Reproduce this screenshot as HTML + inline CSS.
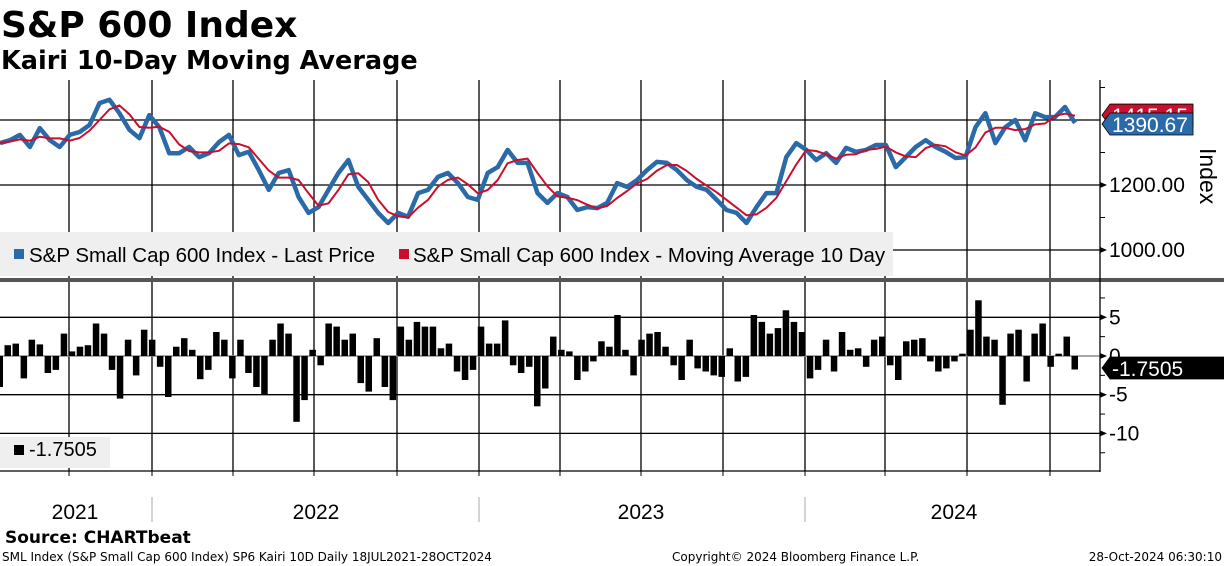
<!DOCTYPE html>
<html><head><meta charset="utf-8">
<style>
body{margin:0;width:1224px;height:566px;background:#fff;overflow:hidden;font-family:"DejaVu Sans","Liberation Sans",sans-serif;}
svg{position:absolute;left:0;top:0}
</style></head><body>
<svg id="c" width="1224" height="566">
  <text x="1" y="37" font-size="36" font-weight="bold" fill="#000">S&amp;P 600 Index</text>
  <text x="1" y="69" font-size="25.5" font-weight="bold" fill="#000">Kairi 10-Day Moving Average</text>
  <g id="grid"></g>
  <g id="upper"></g>
  <g id="lower"></g>
  <g id="axes"></g>
</svg>
<script>
const priceVals=[1329,1338,1354,1317,1375,1338,1317,1354,1363,1385,1452,1462,1421,1370,1344,1415,1378,1298,1298,1317,1286,1298,1332,1354,1292,1302,1246,1185,1237,1246,1163,1114,1132,1185,1237,1277,1194,1154,1114,1083,1114,1102,1175,1185,1225,1237,1206,1163,1154,1237,1255,1308,1268,1268,1175,1145,1175,1163,1123,1132,1129,1145,1206,1194,1215,1246,1271,1268,1246,1215,1194,1185,1154,1123,1114,1083,1132,1175,1175,1286,1329,1308,1277,1298,1268,1314,1302,1308,1323,1323,1255,1286,1317,1338,1317,1302,1283,1286,1378,1421,1329,1378,1400,1338,1421,1409,1409,1440,1391];
const kairiVals=[-4.0,1.4,1.6,-2.9,2.1,1.5,-2.2,-1.8,2.9,0.6,1.2,1.4,4.2,2.9,-1.8,-5.5,2.1,-2.5,3.4,2.1,-1.4,-5.3,1.2,2.3,0.8,-3.0,-1.8,3.1,2.1,-2.9,2.1,-2.2,-4.0,-5.0,2.1,4.2,2.9,-8.5,-5.7,0.8,-1.2,4.2,3.8,2.1,2.9,-3.5,-4.6,2.3,-4.0,-5.7,
3.8,2.1,4.4,3.8,3.8,1.0,1.6,-2.0,-3.1,-1.8,3.8,1.6,1.6,4.6,-1.2,-2.2,-1.4,-6.5,-4.2,2.5,0.8,0.6,-3.1,-2.0,-0.7,1.9,1.2,5.3,0.8,-2.5,2.1,2.9,3.1,1.2,-1.2,-3.1,2.1,-1.6,-2.0,-2.5,-2.7,1.0,-3.3,-2.7,5.3,4.4,2.9,3.6,5.9,4.4,
3.1,-2.9,-1.8,2.1,-2.0,3.1,0.8,1.0,-1.4,2.1,2.5,-1.2,-3.1,1.9,2.1,2.3,-0.7,-2.0,-1.6,-0.7,0.3,3.4,7.2,2.5,2.1,-6.3,2.9,3.4,-3.3,2.9,4.2,-1.4,0.3,2.5,-1.75];
const priceTicks=[1000,1200];
const priceTickLabels=["1000.00","1200.00"];
const kairiTicks=[5,0,-5,-10];
const kairiTickLabels=["5","0","-5","-10"];
const years=["2021","2022","2023","2024"];

const NS="http://www.w3.org/2000/svg";
function mk(p,t,a){const e=document.createElementNS(NS,t);for(const k in a)e.setAttribute(k,a[k]);p.appendChild(e);return e;}
const X0=0,XEND=1075,PLOTR=1100;
const yP=v=>250-(v-1000)*65/200;
const yK=v=>356-v*7.74;
const xP=i=>X0+i*(XEND-X0)/(priceVals.length-1);
const xK=i=>X0+i*(XEND-X0)/(kairiVals.length-1);
const grid=document.getElementById('grid'),up=document.getElementById('upper'),lo=document.getElementById('lower'),ax=document.getElementById('axes');
const LF='Liberation Sans, sans-serif';

[69,152,233,314,397,479,560,641,723,805,885,967,1050].forEach(x=>{
 const l=mk(grid,'line',{x1:x,x2:x,y1:80,y2:471,stroke:'#000','stroke-width':1.3});
 
 
});
[1000,1200,1400].forEach(v=>{
 const l=mk(grid,'line',{x1:0,x2:PLOTR,y1:yP(v),y2:yP(v),stroke:'#000','stroke-width':1.3});
 
 
});
[5,-5,-10].forEach(v=>{
 const l=mk(grid,'line',{x1:0,x2:PLOTR,y1:yK(v),y2:yK(v),stroke:'#000','stroke-width':1.3});
 
 
});

const lg=mk(up,'rect',{x:0,y:232,width:893,height:44,fill:'#efefef'});



let d='';priceVals.forEach((v,i)=>{d+=(i?'L':'M')+xP(i).toFixed(1)+' '+yP(v).toFixed(1);});
const pl=mk(up,'path',{d:d,fill:'none',stroke:'#2b6aa8','stroke-width':4.5,'stroke-linejoin':'round'});


const ma=priceVals.map((v,i)=>{const a=priceVals.slice(Math.max(0,i-2),i+1);return a.reduce((s,x)=>s+x,0)/a.length;});
let d2='';ma.forEach((v,i)=>{d2+=(i?'L':'M')+xP(i).toFixed(1)+' '+yP(v).toFixed(1);});
const ml=mk(up,'path',{d:d2,fill:'none',stroke:'#c8102e','stroke-width':2,'stroke-linejoin':'round'});



function txt(p,x,y,s,o){const t=mk(p,'text',Object.assign({x:x,y:y},o||{}));t.textContent=s;return t;}
let e;
e=mk(up,'rect',{x:14,y:249,width:10,height:10,fill:'#2b6aa8'});
e=txt(up,29,262,'S&P Small Cap 600 Index - Last Price',{'font-size':20.5,'font-family':LF,fill:'#000'});
e=mk(up,'rect',{x:399,y:249,width:10,height:10,fill:'#c8102e'});
e=txt(up,413,262,'S&P Small Cap 600 Index - Moving Average 10 Day',{'font-size':20.5,'font-family':LF,fill:'#000'});

e=mk(ax,'rect',{x:0,y:278,width:1224,height:4,fill:'#555'});

e=mk(lo,'line',{x1:0,x2:PLOTR,y1:356,y2:356,stroke:'#888','stroke-width':1.5});
const bw=(XEND-X0)/(kairiVals.length-1);
kairiVals.forEach((v,i)=>{
 const y=yK(v);
 const b=mk(lo,'rect',{x:(xK(i)-bw/2+0.5).toFixed(1),y:Math.min(y,356).toFixed(1),width:(bw-1.5).toFixed(1),height:Math.abs(356-y).toFixed(1),fill:'#000'});
 
 
});
e=mk(lo,'rect',{x:0,y:437,width:110,height:31,fill:'#efefef'});
e=mk(lo,'rect',{x:14,y:445,width:10,height:10,fill:'#000'});
e=txt(lo,29,456,'-1.7505',{'font-size':20,'font-family':LF,fill:'#000'});

e=mk(ax,'line',{x1:PLOTR,x2:PLOTR,y1:80,y2:472,stroke:'#000','stroke-width':1.3});
[1100,1300,1500].forEach(v=>{const t=mk(ax,'line',{x1:PLOTR,x2:PLOTR+5,y1:yP(v),y2:yP(v),stroke:'#000'});});
[7.5,2.5,-2.5,-7.5,-12.5].forEach(v=>{const t=mk(ax,'line',{x1:PLOTR,x2:PLOTR+5,y1:yK(v),y2:yK(v),stroke:'#000'});});
priceTicks.forEach((v,i)=>{
 const y=yP(v);
 const t=mk(ax,'path',{d:`M${PLOTR} ${y-3}L${PLOTR+7} ${y}L${PLOTR} ${y+3}Z`,fill:'#000'});
 
 
 const l=txt(ax,1109,y+7,priceTickLabels[i],{'font-size':21,'font-family':LF,fill:'#000'});
 
 
});
kairiTicks.forEach((v,i)=>{
 const y=yK(v);
 const t=mk(ax,'path',{d:`M${PLOTR} ${y-3}L${PLOTR+7} ${y}L${PLOTR} ${y+3}Z`,fill:'#000'});
 
 
 const l=txt(ax,1109,y+7,kairiTickLabels[i],{'font-size':21,'font-family':LF,fill:'#000'});
 
 
});
e=txt(ax,0,0,'Index',{'font-size':23,'font-family':LF,fill:'#000',transform:'translate(1200,148) rotate(90)'});

function tag(y,w,col,label,name,tc){
 const g=mk(ax,'g',{});
 
 
 mk(g,'path',{d:`M1102 ${y}L1110 ${y-11}L${1102+w} ${y-11}L${1102+w} ${y+11}L1110 ${y+11}Z`,fill:col,stroke:'#000','stroke-width':0.8});
 txt(g,1112,y+8,label,{'font-size':21,'font-family':LF,fill:tc});
}
tag(yP(1415.15),91,'#c8102e','1415.15','ma-value-tag','#fff');
tag(yP(1390.67)+1,91,'#2b6aa8','1390.67','price-value-tag','#fff');
tag(368,125,'#000','-1.7505','kairi-value-tag','#fff');

e=mk(ax,'line',{x1:0,x2:PLOTR,y1:471,y2:471,stroke:'#000','stroke-width':1.3});
[69,152,233,314,397,479,560,641,723,805,885,967,1050].forEach(x=>{const t=mk(ax,'line',{x1:x,x2:x,y1:471,y2:476,stroke:'#000'});});
[152,479,805].forEach(x=>{const t=mk(ax,'line',{x1:x,x2:x,y1:497,y2:522,stroke:'#aaa'});});
const yearX=[75,316,641,954];
years.forEach((s,i)=>{const t=txt(ax,yearX[i],519,s,{'font-size':21,'font-family':LF,'text-anchor':'middle',fill:'#000'});});

e=txt(ax,5,543,'Source: CHARTbeat',{'font-size':17,'font-weight':'bold',fill:'#000'});
e=txt(ax,2,561,'SML Index (S&P Small Cap 600 Index) SP6 Kairi 10D  Daily 18JUL2021-28OCT2024',{'font-size':12,fill:'#000'});
e=txt(ax,672,561,'Copyright© 2024 Bloomberg Finance L.P.',{'font-size':12,fill:'#000'});
e=txt(ax,1222,561,'28-Oct-2024 06:30:10',{'font-size':12,fill:'#000','text-anchor':'end'});
</script>
</body></html>
